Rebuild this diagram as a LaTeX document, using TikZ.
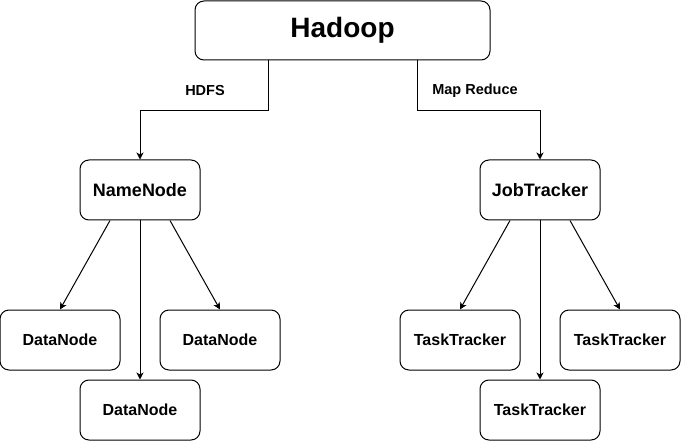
\documentclass[tikz,border=0pt]{standalone}
\usepackage{fontspec}
\setmainfont{Liberation Sans}
\usetikzlibrary{arrows.meta}
\begin{document}
\begin{tikzpicture}[x=1pt,y=-1pt,
  box/.style={draw, line width=1pt, rounded corners=9pt, align=center, inner sep=0pt},
  small/.style={box, minimum width=120pt, minimum height=60pt, font=\bfseries\fontsize{16}{19}\selectfont},
  mid/.style={box, minimum width=120pt, minimum height=60pt, font=\bfseries\fontsize{18}{21}\selectfont},
  lbl/.style={font=\bfseries\fontsize{14.5}{17}\selectfont, inner sep=0pt},
  arr/.style={line width=1pt, -{Stealth[length=7pt,width=7pt,inset=2pt]}}]
\useasboundingbox (0,0) rectangle (681,441);
\node[box, minimum width=295pt, minimum height=59pt, font=\bfseries\fontsize{28}{32}\selectfont] (hadoop) at (342.5,30.5) {Hadoop};
\node[mid] (nn) at (140,190) {NameNode};
\node[mid] (jt) at (540,190) {JobTracker};
\node[small] (d1) at (60,340) {DataNode};
\node[small] (d2) at (220,340) {DataNode};
\node[small] (d3) at (140,410) {DataNode};
\node[small] (t1) at (460,340) {TaskTracker};
\node[small] (t2) at (620,340) {TaskTracker};
\node[small] (t3) at (540,410) {TaskTracker};
\draw[arr] ([xshift=-74.5pt]hadoop.south) -- ++(0,50) -| (nn.north);
\draw[arr] ([xshift=74.5pt]hadoop.south) -- ++(0,50) -| (jt.north);
\node[lbl] (hdfs) at (205,91) {HDFS};
\node[lbl] (mr) at (475,91) {Map Reduce};
\draw[arr] ([xshift=-30pt]nn.south) -- (d1.north);
\draw[arr] (nn.south) -- (d3.north);
\draw[arr] ([xshift=30pt]nn.south) -- (d2.north);
\draw[arr] ([xshift=-30pt]jt.south) -- (t1.north);
\draw[arr] (jt.south) -- (t3.north);
\draw[arr] ([xshift=30pt]jt.south) -- (t2.north);
\end{tikzpicture}
\end{document}
